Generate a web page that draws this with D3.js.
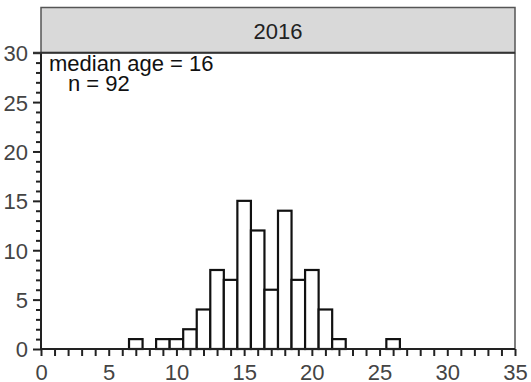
<!DOCTYPE html>
<html>
<head>
<meta charset="utf-8">
<script src="https://cdn.jsdelivr.net/npm/d3@7"></script>
<style>
  html, body { margin: 0; padding: 0; background: #fff; }
  svg { display: block; font-family: "Liberation Sans", Arial, sans-serif; }
</style>
</head>
<body>
<svg id="chart" width="531" height="382"></svg>
<script>
// Age histogram, one-year bins centred on whole ages
const ages   = [7, 9, 10, 11, 12, 13, 14, 15, 16, 17, 18, 19, 20, 21, 22, 26];
const counts = [1, 1, 1, 2, 4, 8, 7, 15, 12, 6, 14, 7, 8, 4, 1, 1];
const panelTitle = "2016";
const noteLines = ["median age = 16", "n = 92"];
const xTicks = d3.range(0, 36, 1);
const yTicks = d3.range(0, 31, 1);

const svg = d3.select("#chart");
const plotL = 41, plotR = 515, plotT = 52.7, plotB = 349, stripT = 7.5;

const x = d3.scaleLinear().domain([0, 35]).range([plotL, plotR]);
const y = d3.scaleLinear().domain([0, 30]).range([plotB, plotT]);

// strip header
svg.append("rect")
  .attr("x", plotL).attr("y", stripT)
  .attr("width", plotR - plotL).attr("height", plotT - stripT)
  .attr("fill", "#d9d9d9").attr("stroke", "#555").attr("stroke-width", 1.5);
svg.append("text")
  .attr("x", (plotL + plotR) / 2).attr("y", 39)
  .attr("text-anchor", "middle")
  .attr("font-size", 22).attr("fill", "#222")
  .text(panelTitle);

// right border of panel
svg.append("line")
  .attr("x1", plotR).attr("x2", plotR).attr("y1", plotT).attr("y2", plotB)
  .attr("stroke", "#555").attr("stroke-width", 1.5);

// bars
const data = ages.map((a, i) => ({ age: a, n: counts[i] }));
svg.append("g").selectAll("rect").data(data).join("rect")
  .attr("x", d => x(d.age - 0.5))
  .attr("y", d => y(d.n))
  .attr("width", d => x(d.age + 0.5) - x(d.age - 0.5))
  .attr("height", d => y(0) - y(d.n))
  .attr("fill", "#fff").attr("stroke", "#111").attr("stroke-width", 2.2);

// x axis
const xAxis = d3.axisBottom(x).tickValues(xTicks).tickSize(7)
  .tickFormat(d => d % 5 === 0 ? d : "");
const gx = svg.append("g").attr("transform", `translate(0,${plotB})`).call(xAxis);
gx.select(".domain").remove();
gx.selectAll(".tick line").attr("stroke", "#222").attr("stroke-width", 2);
gx.selectAll(".tick text").attr("font-size", 22).attr("fill", "#444")
  .attr("font-family", "Liberation Sans, Arial, sans-serif").attr("dy", "0.95em");

// y axis
const yAxis = d3.axisLeft(y).tickValues(yTicks).tickSize(5)
  .tickFormat(d => d % 5 === 0 ? d : "");
const gy = svg.append("g").attr("transform", `translate(${plotL},0)`).call(yAxis);
gy.select(".domain").remove();
gy.selectAll(".tick line").attr("stroke", "#222").attr("stroke-width", 2)
  .attr("x2", d => d % 5 === 0 ? -8 : -5);
gy.selectAll(".tick text").attr("font-size", 22).attr("fill", "#444")
  .attr("font-family", "Liberation Sans, Arial, sans-serif")
  .attr("x", -13).attr("dy", "0.36em");

// axis lines
svg.append("line")
  .attr("x1", plotL).attr("x2", plotR).attr("y1", plotB).attr("y2", plotB)
  .attr("stroke", "#222").attr("stroke-width", 2);
svg.append("line")
  .attr("x1", plotL).attr("x2", plotL).attr("y1", plotT).attr("y2", plotB)
  .attr("stroke", "#222").attr("stroke-width", 2);
svg.append("line")
  .attr("x1", plotL - 8).attr("x2", plotR).attr("y1", plotT).attr("y2", plotT)
  .attr("stroke", "#333").attr("stroke-width", 2);

// annotation
svg.append("text").attr("x", 49).attr("y", 71)
  .attr("font-size", 22).attr("fill", "#111").text(noteLines[0]);
svg.append("text").attr("x", 68).attr("y", 90.5)
  .attr("font-size", 22).attr("fill", "#111").text(noteLines[1]);
</script>
</body>
</html>
